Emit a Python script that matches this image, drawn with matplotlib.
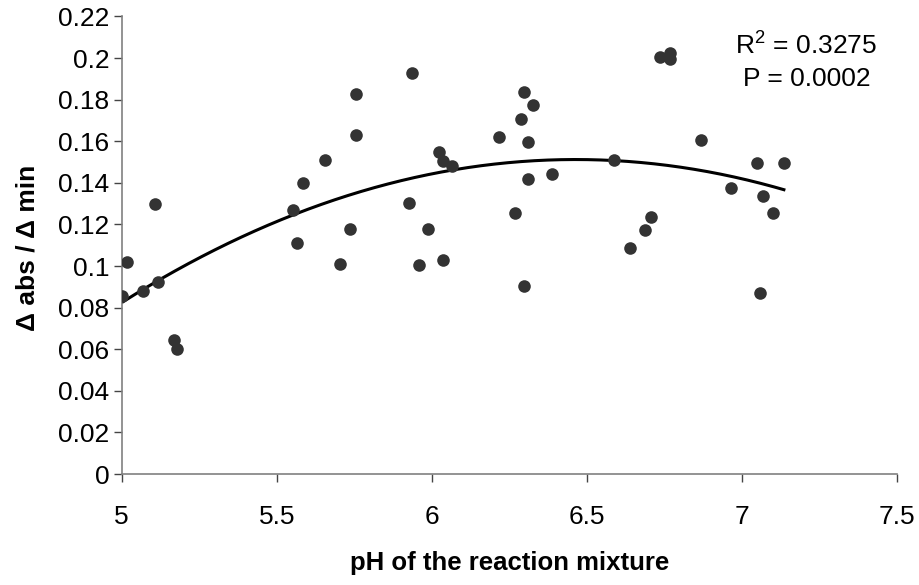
# scatter of reaction rate vs pH with a 2nd order trend line
import numpy as np
import matplotlib
matplotlib.use("Agg")
import matplotlib.pyplot as plt
from matplotlib.ticker import FuncFormatter

# values
ph = [5.000, 5.018, 5.070, 5.106, 5.116, 5.169, 5.179, 5.554, 5.566, 5.585,
      5.657, 5.704, 5.736, 5.756, 5.756, 5.928, 5.937, 5.958, 5.989, 6.025,
      6.035, 6.035, 6.066, 6.217, 6.269, 6.288, 6.299, 6.299, 6.310, 6.310,
      6.326, 6.387, 6.588, 6.639, 6.687, 6.706, 6.736, 6.769, 6.770, 6.868,
      6.965, 7.048, 7.059, 7.068, 7.100, 7.136]
rate = [0.0856, 0.1018, 0.0880, 0.1297, 0.0921, 0.0643, 0.0603, 0.1267, 0.1113, 0.1397,
        0.1512, 0.1012, 0.1180, 0.1828, 0.1628, 0.1304, 0.1929, 0.1004, 0.1180, 0.1549,
        0.1504, 0.1028, 0.1480, 0.1620, 0.1253, 0.1706, 0.1835, 0.0904, 0.1595, 0.1420,
        0.1772, 0.1444, 0.1512, 0.1089, 0.1174, 0.1235, 0.2004, 0.2022, 0.1993, 0.1604,
        0.1373, 0.1496, 0.0871, 0.1336, 0.1253, 0.1496]
x_ticks = [5, 5.5, 6, 6.5, 7, 7.5]
y_ticks = [0, 0.02, 0.04, 0.06, 0.08, 0.1, 0.12, 0.14, 0.16, 0.18, 0.2, 0.22]
stats_text = [r"R$^\mathregular{2}$ = 0.3275", "P = 0.0002"]

# Arial look-alike
plt.rcParams['font.family'] = ['Liberation Sans', 'DejaVu Sans']

fig = plt.figure(figsize=(9.2, 5.85), dpi=100)
ax = fig.add_axes([0.1323, 0.1897, 0.8424, 0.7822])

ax.scatter(ph, rate, s=82, color='#333333', zorder=3, linewidths=0)

# quadratic fit over the data range
coef = np.polyfit(ph, rate, 2)
xs = np.linspace(min(ph), max(ph), 200)
ax.plot(xs, np.polyval(coef, xs), color='black', lw=2.2, zorder=2)

ax.set_xlim(5, 7.5)
ax.set_ylim(0, 0.22)
ax.set_xticks(x_ticks)
ax.set_yticks(y_ticks)
fmt = FuncFormatter(lambda v, p: ('%.2f' % v).rstrip('0').rstrip('.'))
ax.xaxis.set_major_formatter(fmt)
ax.yaxis.set_major_formatter(fmt)

for side in ['top', 'right']:
    ax.spines[side].set_visible(False)
for side in ['left', 'bottom']:
    ax.spines[side].set_color('#808080')
    ax.spines[side].set_linewidth(1.2)

ax.tick_params(axis='y', direction='out', length=6, width=1, color='#444444',
               labelsize=19, pad=3)
ax.tick_params(axis='x', direction='out', length=6, width=1, color='#444444',
               labelsize=19, pad=16)

ax.set_xlabel("pH of the reaction mixture", fontsize=18.5, fontweight='bold')
ax.xaxis.label.set_va('center')
ax.xaxis.set_label_coords(0.5, -0.195)
ax.set_ylabel("Δ abs / Δ min", fontsize=19, fontweight='bold')
ax.yaxis.label.set_va('center')
ax.yaxis.set_label_coords(-0.121, 0.495)

# stats text, placed in figure pixels from the top-left
ax.text(806 / 920, 1 - 45 / 585, stats_text[0], transform=fig.transFigure,
        fontsize=19, ha='center', va='center')
ax.text(807 / 920, 1 - 79 / 585, stats_text[1], transform=fig.transFigure,
        fontsize=19, ha='center', va='center')

plt.savefig("out.png", dpi=100)
